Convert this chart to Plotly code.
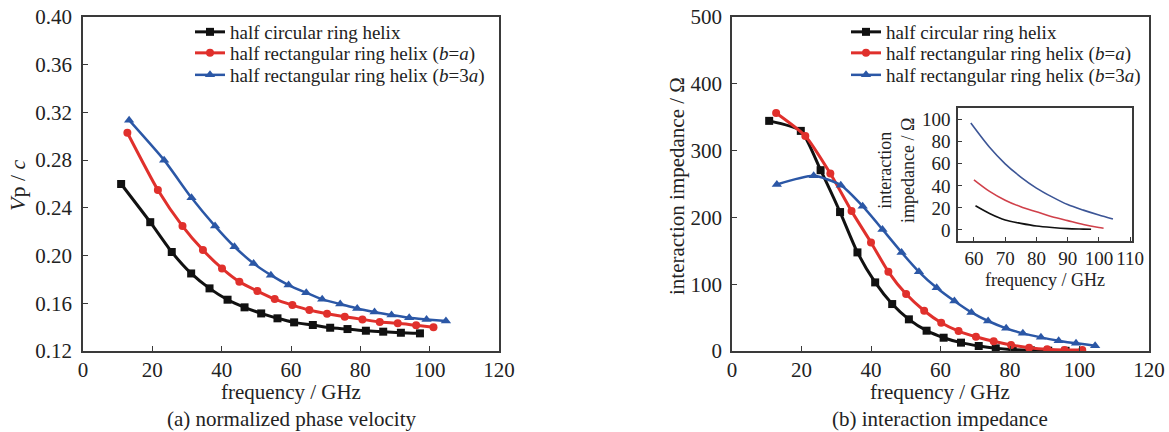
import plotly.graph_objects as go

# ---- (a) normalized phase velocity ----
vp_circ_f = [11.0, 19.4, 25.6, 31.2, 36.5, 41.7, 46.6, 51.4, 56.1, 60.9, 66.3, 71.3, 76.3, 81.6, 86.6, 91.7, 97.2]
vp_circ = [0.260, 0.228, 0.203, 0.185, 0.1725, 0.163, 0.1566, 0.1515, 0.1474, 0.144, 0.1418, 0.1395, 0.1384, 0.137, 0.1362, 0.1353, 0.1348]

vp_rect1_f = [12.8, 21.6, 28.7, 34.6, 40.1, 45.1, 50.3, 55.3, 60.4, 65.3, 70.4, 75.5, 80.6, 85.6, 90.8, 96.1, 101.1]
vp_rect1 = [0.303, 0.255, 0.2247, 0.2046, 0.1892, 0.178, 0.1702, 0.1635, 0.1585, 0.1543, 0.1513, 0.1487, 0.1465, 0.1443, 0.1432, 0.1415, 0.140]

vp_rect3_f = [13.3, 23.4, 31.3, 38.1, 43.7, 49.2, 54.2, 59.3, 64.4, 69.0, 74.2, 79.1, 84.1, 89.0, 94.1, 99.1, 104.7]
vp_rect3 = [0.3135, 0.280, 0.2484, 0.2247, 0.2074, 0.1934, 0.1836, 0.1753, 0.1688, 0.1633, 0.1594, 0.1557, 0.1527, 0.1501, 0.1479, 0.1465, 0.1451]

# ---- (b) interaction impedance ----
kc_circ_f = [10.7, 19.8, 25.5, 31.1, 36.1, 41.2, 46.1, 50.9, 56.0, 60.9, 65.9, 71.0, 75.9, 80.8, 86.0, 91.0, 96.0]
kc_circ = [344.5, 329.5, 270.7, 208.0, 147.6, 102.7, 70.3, 47.4, 30.4, 19.9, 12.5, 7.5, 4.0, 2.0, 1.0, 0.5, 0.3]

kc_rect1_f = [12.7, 21.1, 28.3, 34.4, 40.0, 45.0, 50.1, 55.3, 60.2, 65.2, 70.2, 75.3, 80.3, 85.5, 90.7, 95.7, 100.8]
kc_rect1 = [356.4, 322.0, 265.7, 209.4, 162.5, 118.6, 85.2, 60.3, 42.4, 29.9, 21.4, 14.5, 9.0, 5.0, 2.5, 1.5, 1.5]

kc_rect3_f = [12.9, 23.5, 31.3, 37.6, 43.3, 48.8, 53.8, 58.9, 64.0, 68.9, 73.7, 78.9, 83.7, 88.9, 94.0, 99.0, 104.5]
kc_rect3 = [249.3, 262.2, 248.3, 216.8, 182.0, 147.6, 118.6, 94.7, 74.8, 57.8, 44.9, 33.9, 26.4, 20.4, 15.5, 11.5, 8.0]

# ---- inset: high-frequency detail of the impedance ----
ins_circ_f = [60.5, 65, 70, 75, 80, 85, 90, 95, 97.5]
ins_circ = [22.0, 15.0, 9.0, 6.0, 3.6, 2.2, 1.2, 0.8, 0.6]
ins_rect1_f = [60, 65, 70, 75, 80, 85, 90, 95, 100, 101.5]
ins_rect1 = [45.5, 35.0, 27.0, 21.0, 16.5, 12.0, 8.5, 5.0, 2.2, 1.5]
ins_rect3_f = [59, 65, 70, 75, 80, 85, 90, 95, 100, 104.5]
ins_rect3 = [97.0, 75.0, 60.0, 48.0, 38.0, 30.0, 23.0, 18.0, 13.6, 10.0]

names = [
    "half circular ring helix",
    "half rectangular ring helix (<i>b</i>=<i>a</i>)",
    "half rectangular ring helix (<i>b</i>=3<i>a</i>)",
]
colors = ["#111111", "#e0302c", "#2b57a6"]
inset_colors = ["#111111", "#d0404a", "#3c5596"]
symbols = ["square", "circle", "triangle-up"]
msizes = [8, 8, 9]
lwidths = [3, 3, 2.5]

SERIF = "Liberation Serif"
W, H = 1169, 432


def px_x(p):
    return p / W


def px_y(p):
    return (H - p) / H


# one single-entry legend per series, so the rows can sit close together
LEGEND_ROWS = [32, 53, 75]
left_legends = ["legend", "legend2", "legend3"]
right_legends = ["legend4", "legend5", "legend6"]

fig = go.Figure()

left_sets = [(vp_circ_f, vp_circ), (vp_rect1_f, vp_rect1), (vp_rect3_f, vp_rect3)]
right_sets = [(kc_circ_f, kc_circ), (kc_rect1_f, kc_rect1), (kc_rect3_f, kc_rect3)]
inset_sets = [(ins_circ_f, ins_circ), (ins_rect1_f, ins_rect1), (ins_rect3_f, ins_rect3)]

for i, (fx, fy) in enumerate(left_sets):
    fig.add_trace(go.Scatter(
        x=fx, y=fy, name=names[i], mode="lines+markers",
        line=dict(color=colors[i], width=lwidths[i], shape="spline", smoothing=0.6),
        marker=dict(symbol=symbols[i], size=msizes[i], color=colors[i]),
        xaxis="x", yaxis="y", legend=left_legends[i],
    ))

for i, (fx, fy) in enumerate(right_sets):
    fig.add_trace(go.Scatter(
        x=fx, y=fy, name=names[i], mode="lines+markers",
        line=dict(color=colors[i], width=lwidths[i], shape="spline", smoothing=0.6),
        marker=dict(symbol=symbols[i], size=msizes[i], color=colors[i]),
        xaxis="x2", yaxis="y2", legend=right_legends[i],
    ))

for i, (fx, fy) in enumerate(inset_sets):
    fig.add_trace(go.Scatter(
        x=fx, y=fy, mode="lines", showlegend=False,
        line=dict(color=inset_colors[i], width=1.6, shape="spline", smoothing=0.8),
        xaxis="x3", yaxis="y3",
    ))

axis_common = dict(
    showgrid=False, zeroline=False, showline=True, mirror=True, automargin=False,
    linecolor="#3a3a3a", linewidth=1.5,
    ticks="inside", ticklen=5, tickwidth=1.3, tickcolor="#3a3a3a",
    tickfont=dict(family=SERIF, size=21, color="#222222"),
)
inset_axis = {**axis_common, "tickfont": dict(family=SERIF, size=19, color="#222222"), "ticklen": 4}

legend_font = dict(family=SERIF, size=19, color="#222222")
legend_layout = {}
for name, row in zip(left_legends, LEGEND_ROWS):
    legend_layout[name] = dict(x=px_x(190), y=px_y(row), xanchor="left", yanchor="middle",
                               bgcolor="rgba(0,0,0,0)", borderwidth=0, font=legend_font)
for name, row in zip(right_legends, LEGEND_ROWS):
    legend_layout[name] = dict(x=px_x(846), y=px_y(row), xanchor="left", yanchor="middle",
                               bgcolor="rgba(0,0,0,0)", borderwidth=0, font=legend_font)

fig.update_layout(
    width=W, height=H, autosize=False,
    margin=dict(l=0, r=0, t=0, b=0, pad=0, autoexpand=False),
    paper_bgcolor="white", plot_bgcolor="white",
    xaxis=dict(domain=[px_x(83), px_x(499)], range=[0, 120], tickvals=[0, 20, 40, 60, 80, 100, 120],
               anchor="y", ticklabelstandoff=-1, **axis_common),
    yaxis=dict(domain=[px_y(351), px_y(17)], range=[0.12, 0.40],
               tickvals=[0.12, 0.16, 0.20, 0.24, 0.28, 0.32, 0.36, 0.40], tickformat=".2f",
               anchor="x", ticklabelstandoff=5, **axis_common),
    xaxis2=dict(domain=[px_x(732), px_x(1149)], range=[0, 120], tickvals=[0, 20, 40, 60, 80, 100, 120],
                anchor="y2", ticklabelstandoff=-1, **axis_common),
    yaxis2=dict(domain=[px_y(351), px_y(17)], range=[0, 500], tickvals=[0, 100, 200, 300, 400, 500],
                anchor="x2", ticklabelstandoff=4, **axis_common),
    xaxis3=dict(domain=[px_x(958), px_x(1132)], range=[54.9, 110.6], tickvals=[60, 70, 80, 90, 100, 110],
                anchor="y3", ticklabelstandoff=-1, **inset_axis),
    yaxis3=dict(domain=[px_y(241), px_y(108)], range=[-10, 110.6], tickvals=[0, 20, 40, 60, 80, 100],
                anchor="x3", ticklabelstandoff=2, **inset_axis),
    **legend_layout,
)

text_font = dict(family=SERIF, size=21, color="#222222")
inset_font = dict(family=SERIF, size=18, color="#222222")
annotations = [
    dict(text="frequency / GHz", x=px_x(291), y=px_y(392)),
    dict(text="(a) normalized phase velocity", x=px_x(291), y=px_y(419)),
    dict(text="frequency / GHz", x=px_x(940), y=px_y(392)),
    dict(text="(b) interaction impedance", x=px_x(940), y=px_y(419)),
    dict(text="<i>V</i>p / <i>c</i>", x=px_x(18), y=px_y(185), textangle=-90,
         font=dict(family=SERIF, size=22, color="#222222")),
    dict(text="interaction impedance / Ω", x=px_x(677), y=px_y(186), textangle=-90),
    dict(text="interaction<br>impedance / Ω", x=px_x(896), y=px_y(171), textangle=-90, font=inset_font),
    dict(text="frequency / GHz", x=px_x(1045), y=px_y(280), font=inset_font),
]
for a in annotations:
    a.setdefault("font", text_font)
    fig.add_annotation(xref="paper", yref="paper", showarrow=False,
                       xanchor="center", yanchor="middle", **a)

fig.write_html("out.html")
